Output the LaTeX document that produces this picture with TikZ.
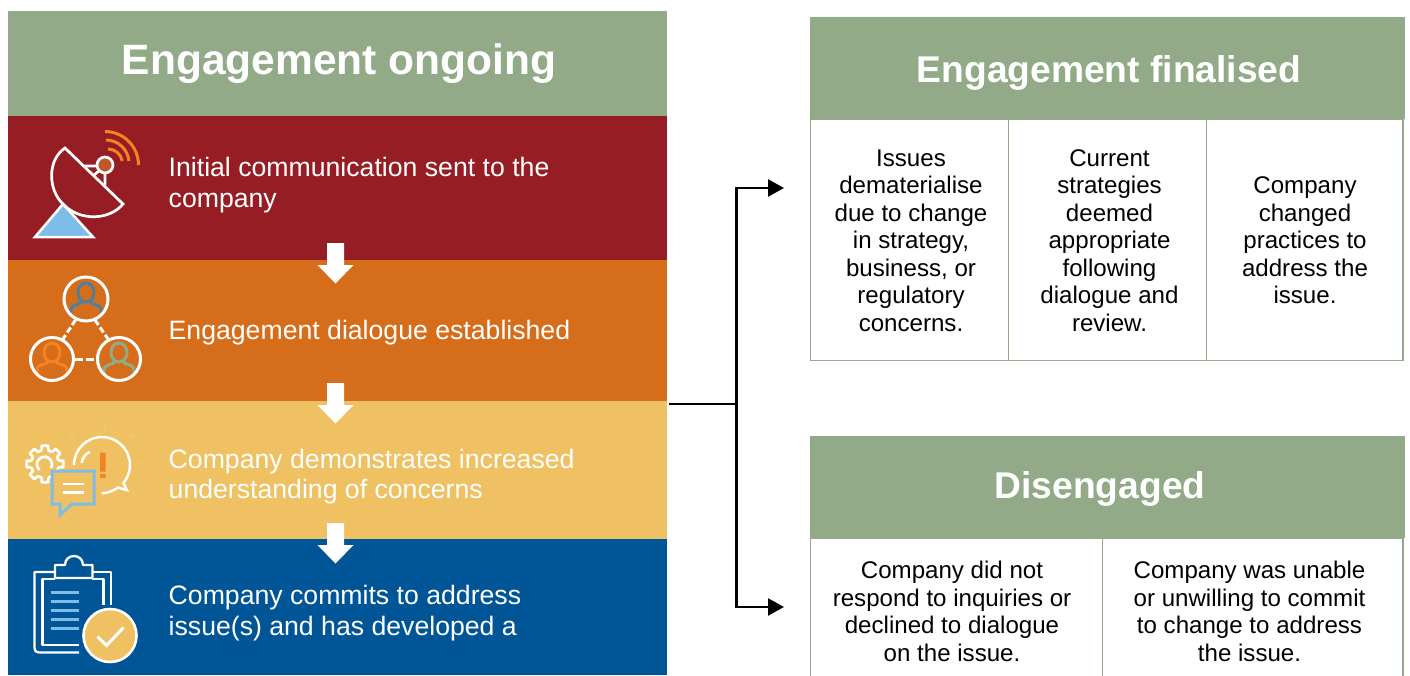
\documentclass[tikz,border=0pt]{standalone}
\usepackage{fontspec}
\setmainfont{Liberation Sans}
\usetikzlibrary{arrows.meta,shapes.arrows}
\definecolor{sage}{HTML}{92AA87}
\definecolor{rred}{HTML}{951D23}
\definecolor{rorange}{HTML}{D56D1A}
\definecolor{ryellow}{HTML}{EFC162}
\definecolor{rblue}{HTML}{005596}
\definecolor{iorange}{HTML}{F58220}
\definecolor{ilblue}{HTML}{7DBDE8}
\definecolor{iblue}{HTML}{4F7F9E}
\definecolor{idot}{HTML}{C0562A}
\definecolor{ifaint}{HTML}{F0C770}
\tikzset{
  band/.style={draw=none,anchor=north west,inner sep=0pt,outer sep=0pt},
  titletext/.style={text=white,font=\bfseries\fontsize{37.2}{40}\selectfont,inner sep=0pt},
  steptext/.style={text=white,anchor=west,align=left,inner sep=0pt,font=\fontsize{26.65}{31}\selectfont},
  cellbox/.style={draw=sage,line width=1.1pt,anchor=north west,inner sep=0pt,outer sep=0pt},
  celltext/.style={text=black,align=center,inner sep=0pt,font=\fontsize{24.1}{27.5}\selectfont},
  downarrow/.style={fill=white,draw=none},
  link/.style={draw=black,line width=2.5pt},
  linkend/.style={link,-{Triangle[length=16pt,width=17pt]}},
  iconline/.style={draw=white,line width=2.7pt,line join=round},
}
\newcommand{\personicon}[4]{%
  \begin{scope}
    \clip (#1,#2) circle (#4);
    \draw[#3,line width=3pt] (#1,#2-6.5) ellipse (8 and 9.5);
    \draw[#3,line width=3pt,line join=round] (#1-5,#2+2) -- (#1-5,#2+4) -- (#1-12,#2+6.5) .. controls (#1-14,#2+7.5) and (#1-15,#2+9) .. (#1-15,#2+11) -- (#1-15,#2+22);
    \draw[#3,line width=3pt,line join=round] (#1+5,#2+2) -- (#1+5,#2+4) -- (#1+12,#2+6.5) .. controls (#1+14,#2+7.5) and (#1+15,#2+9) .. (#1+15,#2+11) -- (#1+15,#2+22);
  \end{scope}
  \draw[white,line width=3pt] (#1,#2) circle (#4);
}
\begin{document}
\begin{tikzpicture}[x=1pt,y=-1pt]
\useasboundingbox (0,0) rectangle (1410,675);
\fill[white] (0,0) rectangle (1410,675);
% left column
\node[band,fill=sage,minimum width=659pt,minimum height=105pt] (hdrA) at (8,11) {};
\node[band,fill=rred,minimum width=659pt,minimum height=144pt] (rowA) at (8,116) {};
\node[band,fill=rorange,minimum width=659pt,minimum height=141pt] (rowB) at (8,260) {};
\node[band,fill=ryellow,minimum width=659pt,minimum height=138pt] (rowC) at (8,401) {};
\node[band,fill=rblue,minimum width=659pt,minimum height=136pt] (rowD) at (8,539) {};
\node[titletext,font=\bfseries\fontsize{42.5}{45}\selectfont] (tA) at (339,64) {Engagement ongoing};
\node[steptext] (sA) at (168.5,185) {Initial communication sent to the\\company};
\node[steptext] (sB) at (168.5,332.5) {Engagement dialogue established};
\node[steptext,font=\fontsize{26.65}{30}\selectfont] (sC) at (168.5,477) {Company demonstrates increased\\understanding of concerns};
\node[steptext] (sD) at (168.5,613) {Company commits to address\\issue(s) and has developed a};
% white arrows
\fill[downarrow] (327,243) -- (344,243) -- (344,265) -- (353.5,265) -- (335.5,283.5) -- (317.5,265) -- (327,265) -- cycle;
\fill[downarrow] (327,383) -- (344,383) -- (344,405) -- (353.5,405) -- (335.5,423.5) -- (317.5,405) -- (327,405) -- cycle;
\fill[downarrow] (327,523) -- (344,523) -- (344,545) -- (353.5,545) -- (335.5,563.5) -- (317.5,545) -- (327,545) -- cycle;
% right top
\node[band,fill=sage,minimum width=595pt,minimum height=102pt] (hdrB) at (810,17) {};
\node[cellbox,minimum width=198pt,minimum height=241pt] (cA) at (810.5,119.5) {};
\node[cellbox,minimum width=198pt,minimum height=241pt] (cB) at (1008.5,119.5) {};
\node[cellbox,minimum width=196.5pt,minimum height=241pt] (cC) at (1206.5,119.5) {};
\node[titletext] (tB) at (1109,73) {Engagement finalised};
\node[celltext] (xA) at (911,240.5) {Issues\\dematerialise\\due to change\\in strategy,\\business, or\\regulatory\\concerns.};
\node[celltext] (xB) at (1109.5,240.5) {Current\\strategies\\deemed\\appropriate\\following\\dialogue and\\review.};
\node[celltext] (xC) at (1305,240.5) {Company\\changed\\practices to\\address the\\issue.};
% right bottom
\node[band,fill=sage,minimum width=595pt,minimum height=102pt] (hdrC) at (810,436) {};
\node[cellbox,minimum width=292pt,minimum height=150pt] (cD) at (810.5,538) {};
\node[cellbox,minimum width=300.5pt,minimum height=150pt] (cE) at (1102.5,538) {};
\node[titletext] (tC) at (1100,489) {Disengaged};
\node[celltext] (xD) at (952,611.5) {Company did not\\respond to inquiries or\\declined to dialogue\\on the issue.};
\node[celltext] (xE) at (1249.5,611.5) {Company was unable\\or unwilling to commit\\to change to address\\the issue.};
% connector
\coordinate (lstart) at (669,404);
\coordinate (lmid) at (736.5,404);
\coordinate (ltop) at (736.5,188);
\coordinate (lbot) at (736.5,607);
\coordinate (etop) at (784,188);
\coordinate (ebot) at (784,607);
\draw[link] (lstart) -- (lmid);
\draw[link,line cap=rect] (ltop) -- (lbot);
\draw[linkend] (ltop) -- (etop);
\draw[linkend] (lbot) -- (ebot);
% satellite icon
\fill[ilblue,draw=white,line width=2.5pt,line join=miter] (35,237) -- (63,204) -- (93,237) -- cycle;
\draw[iconline,line join=miter] (65,148) .. controls (47,160) and (48,190) .. (63,204) .. controls (80,222) and (110,220) .. (123,204) -- cycle;
\draw[iconline] (85,166) -- (97,166) (93,176) -- (100,170) (105,173) -- (105,185);
\fill[idot,draw=white,line width=2.7pt] (105,165) circle (8);
\draw[iorange,line width=3pt] (105,131.5) arc (-90:0:33.5) (106,140) arc (-90:-5:23) (108,149) arc (-90:-10:14.5);
% people icon
\draw[white,line width=3pt,dash pattern=on 6pt off 3pt] (75.5,320) -- (63,339);
\draw[white,line width=3pt,dash pattern=on 6pt off 3pt] (95,320) -- (108,339);
\draw[white,line width=3pt,dash pattern=on 8pt off 3pt] (75,359.5) -- (97,359.5);
\personicon{86}{299}{iblue}{22}
\personicon{52}{359}{iorange}{21.5}
\personicon{119}{359}{sage}{21.5}
% gear and bubble icon
\foreach \a in {0,45,...,315}{
  \draw[white,line width=2.7pt,line join=round] ({45+14*cos(\a-14)},{464+14*sin(\a-14)}) -- ({45+18.5*cos(\a-10)},{464+18.5*sin(\a-10)}) -- ({45+18.5*cos(\a+10)},{464+18.5*sin(\a+10)}) -- ({45+14*cos(\a+14)},{464+14*sin(\a+14)}) arc (\a+14:\a+31:14);
}
\draw[white,line width=2.7pt] (51,468) arc (30:-230:7.5);
\draw[white,line width=2.5pt,line join=miter] (74,465) arc (180:400:28) -- (126.7,490) -- (118,487.5) .. controls (113,491) and (107,493.3) .. (101.7,493.3);
\draw[white,line width=2.5pt] (81.7,463) .. controls (82.5,458) and (85,454) .. (90,451.7);
\draw[ifaint,line width=2.5pt] (105,423) -- (105,430) (70,433) -- (74,438) (135,434) -- (131,438) (139,463.5) -- (145,463.5);
\fill[iorange] (100,452.5) rectangle (105.5,471.5) (100,474) rectangle (105.5,478);
\fill[ryellow,draw=ilblue,line width=3pt,line join=miter] (52,471) -- (94,471) -- (94,504) -- (72,504) -- (60,515) -- (60,504) -- (52,504) -- cycle;
\draw[white,line width=2.5pt] (62.5,484) -- (83.5,484) (62.5,492.5) -- (83.5,492.5);
% clipboard icon
\draw[iconline,line width=2.3pt] (55,572) -- (34.5,572) -- (34.5,648) .. controls (34.5,651) and (36,652.5) .. (39,652.5) -- (79,652.5);
\draw[iconline,line width=2.3pt] (92,572) -- (111,572) -- (111,605);
\draw[iconline,line width=2.3pt] (55,579) -- (42.5,579) -- (42.5,645) -- (79,645);
\draw[iconline,line width=2.3pt] (92,579) -- (103.5,579) -- (103.5,605);
\draw[iconline,line width=2.3pt] (55,578) -- (55,565) -- (65,565) .. controls (65,553) and (83,553) .. (83,565) -- (92.5,565) -- (92.5,578) -- cycle;
\draw[ilblue,line width=2.8pt] (50.5,592.5) -- (79,592.5) (50.5,601.5) -- (79,601.5) (50.5,610.5) -- (79,610.5) (50.5,619.5) -- (79,619.5) (50.5,628.5) -- (79,628.5);
\fill[ryellow,draw=white,line width=2.6pt] (110,635.5) circle (26.5);
\draw[white,line width=3pt] (97.5,636.5) -- (106.5,645.5) -- (123.5,627.5);
\end{tikzpicture}
\end{document}
